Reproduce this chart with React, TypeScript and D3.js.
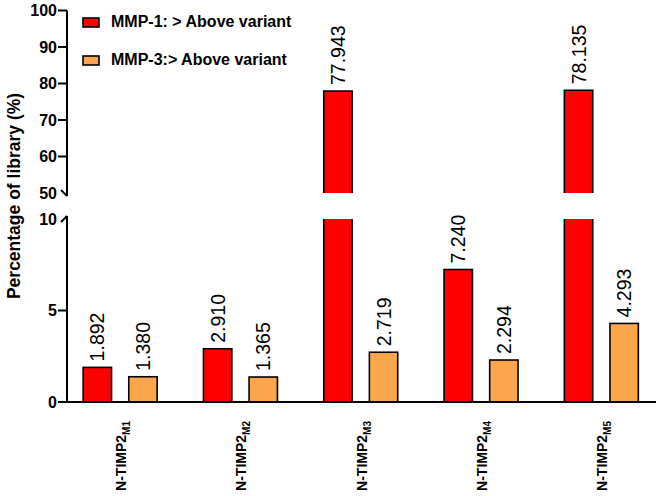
import * as d3 from 'd3'

const categories = ['M1', 'M2', 'M3', 'M4', 'M5']
const seriesNames = ['MMP-1: > Above variant', 'MMP-3:> Above variant']
const seriesColors = ['#FF0000', '#FBA54C']
const mmp1 = [1.892, 2.91, 77.943, 7.24, 78.135]
const mmp3 = [1.38, 1.365, 2.719, 2.294, 4.293]
const upperTicks = [50, 60, 70, 80, 90, 100]
const lowerTicks = [0, 5, 10]

const W = 661
const H = 496
const FONT = 'Liberation Sans, Arial, Helvetica, sans-serif'
const AXIS_X = 67
const BREAK_LOW = 10
const BREAK_HIGH = 50

const x = d3.scaleBand<string>().domain(categories).range([60, 661.5]).padding(0)
const xInner = d3.scaleBand<number>().domain([0, 1]).range([-37, 37]).paddingInner(0.378).paddingOuter(0)
const yLow = d3.scaleLinear().domain([0, 10]).range([402, 219])
const yHigh = d3.scaleLinear().domain([50, 100]).range([193, 10.5])

const fmt = d3.format('.3f')

function Bar({ cat, s, v }: { cat: string; s: number; v: number }) {
  const x0 = (x(cat) ?? 0) + x.bandwidth() / 2 + (xInner(s) ?? 0)
  const bw = xInner.bandwidth()
  const x1 = x0 + bw
  const base = yLow(0)
  const color = seriesColors[s]
  const broken = v > BREAK_LOW
  const top = broken ? yHigh(v) : yLow(v)
  const cx = x0 + bw / 2
  return (
    <g>
      {broken ? (
        <>
          <rect x={x0} y={yLow(BREAK_LOW)} width={bw} height={base - yLow(BREAK_LOW)} fill={color} />
          <path d={`M${x0},${yLow(BREAK_LOW)}V${base}H${x1}V${yLow(BREAK_LOW)}`} fill="none" stroke="#000" strokeWidth={1.6} />
          <rect x={x0} y={top} width={bw} height={yHigh(BREAK_HIGH) - top} fill={color} />
          <path d={`M${x0},${yHigh(BREAK_HIGH)}V${top}H${x1}V${yHigh(BREAK_HIGH)}`} fill="none" stroke="#000" strokeWidth={1.6} />
        </>
      ) : (
        <rect x={x0} y={top} width={bw} height={base - top} fill={color} stroke="#000" strokeWidth={1.6} />
      )}
      <text
        transform={`translate(${cx},${top - 6}) rotate(-90)`}
        dy="0.36em"
        fontSize={19.5}
        fontFamily={FONT}
        fill="#000"
      >
        {fmt(v)}
      </text>
    </g>
  )
}

export default function App() {
  const series = [mmp1, mmp3]
  return (
    <svg width={W} height={H} style={{ position: 'absolute', left: 0, top: 0, background: '#fff' }}>
      {/* y axis, upper segment */}
      <line x1={AXIS_X} x2={AXIS_X} y1={yHigh(100)} y2={yHigh(BREAK_HIGH) + 3} stroke="#000" strokeWidth={2} />
      <line x1={AXIS_X - 6} y1={yHigh(BREAK_HIGH) - 3} x2={AXIS_X} y2={yHigh(BREAK_HIGH) + 3} stroke="#000" strokeWidth={2} />
      {upperTicks.map(t => (
        <g key={`u${t}`}>
          {t !== BREAK_HIGH && <line x1={AXIS_X - 9} x2={AXIS_X} y1={yHigh(t)} y2={yHigh(t)} stroke="#000" strokeWidth={2} />}
          <text x={AXIS_X - 10} y={yHigh(t)} dy="0.36em" textAnchor="end" fontSize={16} fontWeight="bold" fontFamily={FONT}>
            {t}
          </text>
        </g>
      ))}

      {/* y axis, lower segment */}
      <line x1={AXIS_X} x2={AXIS_X} y1={yLow(BREAK_LOW) - 3} y2={yLow(0)} stroke="#000" strokeWidth={2} />
      <line x1={AXIS_X - 6} y1={yLow(BREAK_LOW) + 3} x2={AXIS_X} y2={yLow(BREAK_LOW) - 3} stroke="#000" strokeWidth={2} />
      {lowerTicks.map(t => (
        <g key={`l${t}`}>
          {t !== BREAK_LOW && <line x1={AXIS_X - 9} x2={AXIS_X} y1={yLow(t)} y2={yLow(t)} stroke="#000" strokeWidth={2} />}
          <text x={AXIS_X - 10} y={yLow(t)} dy="0.36em" textAnchor="end" fontSize={16} fontWeight="bold" fontFamily={FONT}>
            {t}
          </text>
        </g>
      ))}

      <text
        transform={`translate(20,196) rotate(-90)`}
        textAnchor="middle"
        fontSize={17.5}
        fontWeight="bold"
        fontFamily={FONT}
      >
        Percentage of library (%)
      </text>

      {/* bars */}
      {categories.map((c, i) => (
        <g key={c}>
          {series.map((vals, s) => (
            <Bar key={s} cat={c} s={s} v={vals[i]} />
          ))}
        </g>
      ))}

      {/* x axis */}
      <line x1={AXIS_X - 1} x2={656} y1={yLow(0)} y2={yLow(0)} stroke="#000" strokeWidth={2} />
      {categories.map(c => (
        <text
          key={c}
          transform={`translate(${(x(c) ?? 0) + x.bandwidth() / 2 + 6},421) rotate(-90)`}
          textAnchor="end"
          fontSize={14}
          fontWeight="bold"
          fontFamily={FONT}
        >
          N-TIMP2
          <tspan fontSize={10} dy={4}>{c}</tspan>
        </text>
      ))}

      {/* legend */}
      {seriesNames.map((name, s) => (
        <g key={name} transform={`translate(83,${18 + s * 38})`}>
          <rect x={0} y={0} width={16} height={9} fill={seriesColors[s]} stroke="#000" strokeWidth={1.6} />
          <text x={28} y={9} fontSize={16} fontWeight="bold" fontFamily={FONT}>
            {name}
          </text>
        </g>
      ))}
    </svg>
  )
}
